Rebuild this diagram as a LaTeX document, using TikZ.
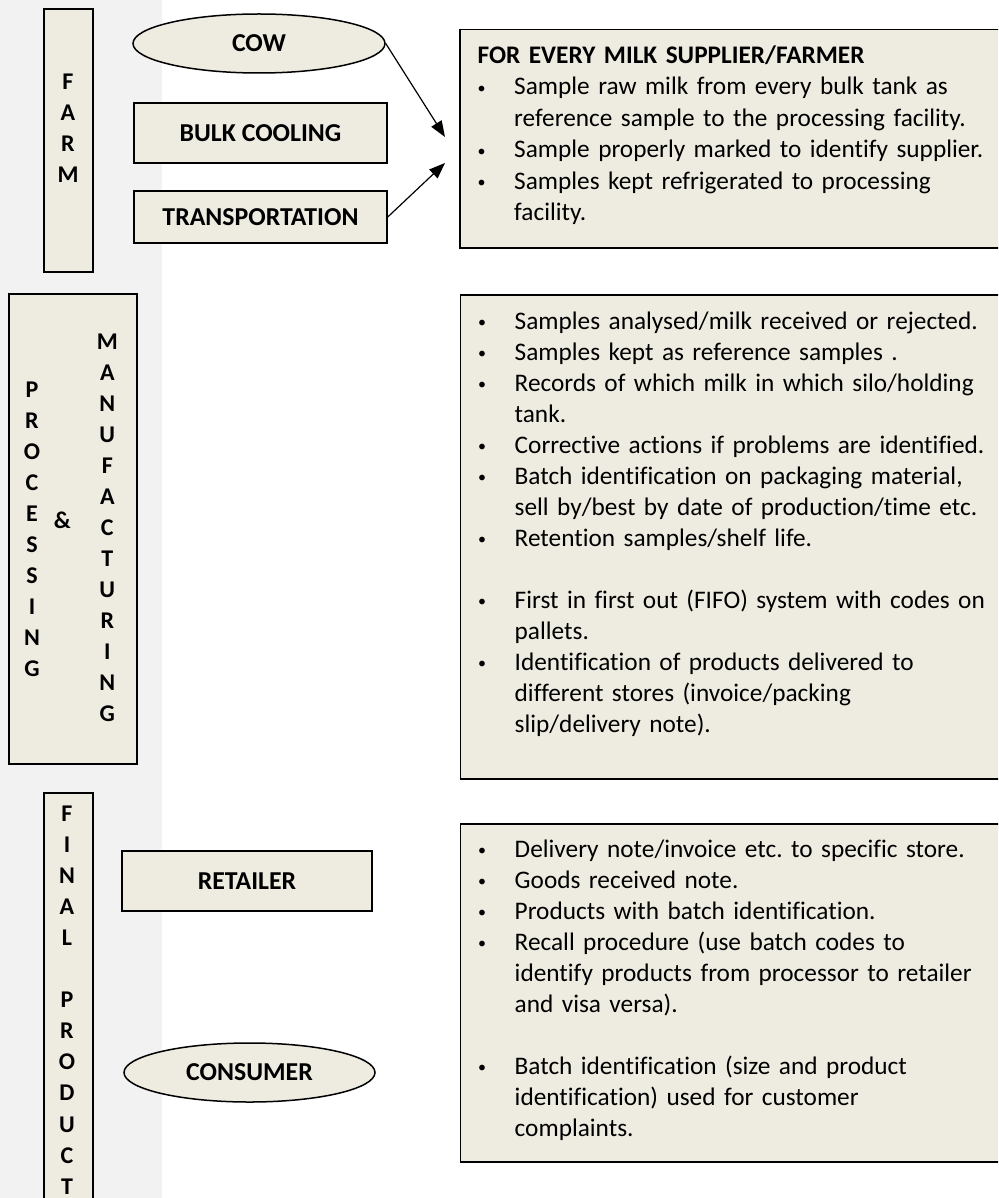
\documentclass[tikz,border=0pt]{standalone}
\usepackage{fontspec}
\setmainfont{Carlito}[Ligatures=NoCommon]
\usetikzlibrary{shapes.geometric,arrows.meta}
\definecolor{boxfill}{HTML}{EEECE1}
\definecolor{stripgray}{HTML}{F2F2F2}
\newcommand\bl{\makebox[36.5pt][l]{\raisebox{1.5pt}{\fontsize{16}{16}\selectfont •}}}
\newcommand\ind{\hspace*{36.5pt}}
\tikzset{
  panel/.style={draw=black, fill=boxfill, line width=1.5pt, inner sep=0pt},
  rectlabel/.style={panel, rectangle, font=\fontsize{25.8}{31}\selectfont\bfseries},
  ovallabel/.style={panel, ellipse, font=\fontsize{25.8}{31}\selectfont\bfseries},
  vletter/.style={anchor=base, inner sep=0pt, font=\fontsize{24}{31}\selectfont\bfseries},
  listtext/.style={anchor=base west, inner sep=0pt, text width=530pt, align=left, font=\fontsize{25.3}{31}\selectfont\frenchspacing},
  flow/.style={line width=1.2pt, -{Triangle[length=16pt,width=12pt]}}
}
\begin{document}
\begin{tikzpicture}[x=1pt,y=-1pt]
\useasboundingbox (0,0) rectangle (998,1198);
\clip (0,0) rectangle (998,1198);
\fill[stripgray] (0,0) rectangle (162,1198);

% left stage columns
\node[panel, rectangle, minimum width=49pt, minimum height=263pt] (farm) at (68.5,140.5) {};
\node[panel, rectangle, minimum width=128pt, minimum height=470pt] (proc) at (73,529) {};
\node[panel, rectangle, minimum width=49pt, minimum height=430pt] (final) at (68.5,1008) {};

\foreach \ch [count=\i from 0] in {F,A,R,M}
  \node[vletter] (farm-\i) at (68,90+30.7*\i) {\ch};
\foreach \ch [count=\i from 0] in {P,R,O,C,E,S,S,I,N,G}
  \node[vletter] (proc-\i) at (32,397.3+31.04*\i) {\ch};
\foreach \ch [count=\i from 0] in {M,A,N,U,F,A,C,T,U,R,I,N,G}
  \node[vletter] (manu-\i) at (107.3,349+31.06*\i) {\ch};
\node[vletter] (amp) at (62.3,528) {\&};
\foreach \ch [count=\i from 0] in {F,I,N,A,L,{},P,R,O,D,U,C,T}
  \node[vletter] (fin-\i) at (67,821.5+31.05*\i) {\ch};

% stage elements
\node[ovallabel, minimum width=252pt, minimum height=59pt] (cow) at (259,43.5) {COW};
\node[rectlabel, minimum width=253pt, minimum height=60pt] (bulk) at (260.5,133) {BULK COOLING};
\node[rectlabel, minimum width=253pt, minimum height=52pt] (transport) at (260.5,217) {TRANSPORTATION};
\node[rectlabel, minimum width=250pt, minimum height=60pt] (retailer) at (247,881) {RETAILER};
\node[ovallabel, minimum width=251pt, minimum height=59pt] (consumer) at (249.5,1072.5) {CONSUMER};

% right information boxes
\node[panel, rectangle, minimum width=555pt, minimum height=218pt, anchor=north west] (info1) at (459,29) {};
\node[panel, rectangle, minimum width=555pt, minimum height=484pt, anchor=north west] (info2) at (459.5,294) {};
\node[panel, rectangle, minimum width=555pt, minimum height=338pt, anchor=north west] (info3) at (459.5,823) {};

\node[listtext, font=\fontsize{25.3}{31.5}\selectfont\frenchspacing] (txt1) at (477.5,63.3) {%
{\bfseries FOR EVERY MILK SUPPLIER/FARMER}\\
\bl Sample raw milk from every bulk tank as\\
\ind reference sample to the processing facility.\\
\bl Sample properly marked to identify supplier.\\
\bl Samples kept refrigerated to processing\\
\ind facility.};

\node[listtext] (txt2) at (478,329) {%
\bl Samples analysed/milk received or rejected.\\
\bl Samples kept as reference samples .\\
\bl Records of which milk in which silo/holding\\
\ind tank.\\
\bl Corrective actions if problems are identified.\\
\bl Batch identification on packaging material,\\
\ind sell by/best by date of production/time etc.\\
\bl Retention samples/shelf life.\\
\mbox{}\\
\bl First in first out (FIFO) system with codes on\\
\ind pallets.\\
\bl Identification of products delivered to\\
\ind different stores (invoice/packing\\
\ind slip/delivery note).};

\node[listtext] (txt3) at (478,857) {%
\bl Delivery note/invoice etc. to specific store.\\
\bl Goods received note.\\
\bl Products with batch identification.\\
\bl Recall procedure (use batch codes to\\
\ind identify products from processor to retailer\\
\ind and visa versa).\\
\mbox{}\\
\bl Batch identification (size and product\\
\ind identification) used for customer\\
\ind complaints.};

% connectors
\coordinate (tip1) at (445,137);
\coordinate (tip2) at (445,163);
\draw[flow] (cow.east) -- (tip1);
\draw[flow] (transport.east) -- (tip2);
\end{tikzpicture}
\end{document}
